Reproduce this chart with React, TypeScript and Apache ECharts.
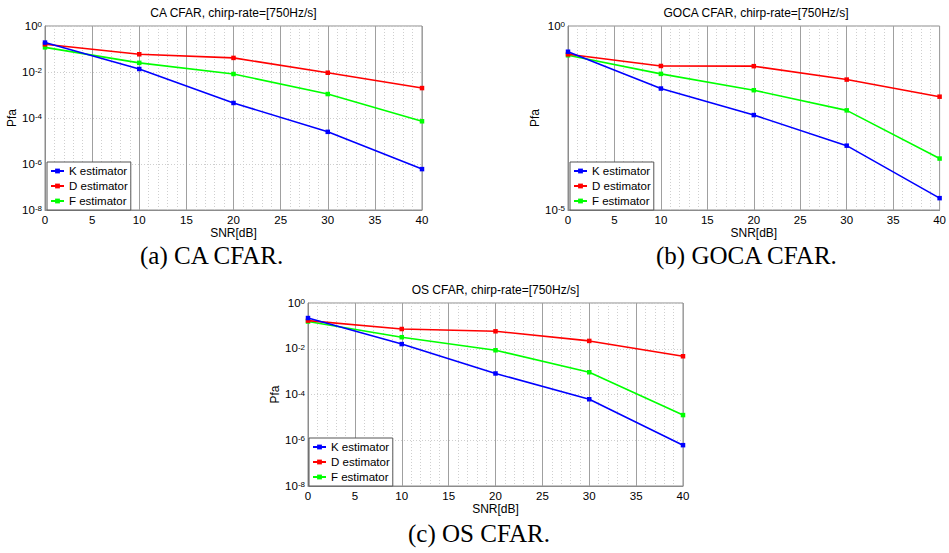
import React, { useEffect, useRef } from "react";
import * as echarts from "echarts";

const SNR = [0, 10, 20, 30, 40];
const X_TICKS_STEP = 5;
const SERIES_NAMES = ["K estimator", "D estimator", "F estimator"];
const SERIES_COLORS = ["#0000ff", "#ff0000", "#00ff00"];

const CA_K = [0.19, 0.0135, 4.5e-4, 2.5e-5, 6e-7];
const CA_D = [0.16, 0.059, 0.041, 0.0093, 0.002];
const CA_F = [0.118, 0.025, 0.0082, 0.0011, 7.2e-5];

const GOCA_K = [0.2, 0.02, 0.0038, 5.6e-4, 2.1e-5];
const GOCA_D = [0.17, 0.082, 0.081, 0.035, 0.012];
const GOCA_F = [0.16, 0.05, 0.018, 0.0051, 2.5e-4];

const OS_K = [0.22, 0.016, 8.3e-4, 6.2e-5, 6.1e-7];
const OS_D = [0.17, 0.073, 0.058, 0.022, 0.0047];
const OS_F = [0.155, 0.032, 0.0086, 9.4e-4, 1.26e-5];

const TITLES = [
  "CA CFAR, chirp-rate=[750Hz/s]",
  "GOCA CFAR, chirp-rate=[750Hz/s]",
  "OS CFAR, chirp-rate=[750Hz/s]",
];
const CAPTIONS = ["(a) CA CFAR.", "(b) GOCA CFAR.", "(c) OS CFAR."];
const Y_MIN = [1e-8, 1e-5, 1e-8];
const Y_DECADE_STEP = [2, 5, 2];
const PANEL_DATA = [
  [CA_K, CA_D, CA_F],
  [GOCA_K, GOCA_D, GOCA_F],
  [OS_K, OS_D, OS_F],
];

const SANS = "Liberation Sans, Arial, Helvetica, sans-serif";
const SERIF = "Liberation Serif, Times New Roman, serif";

// layout (pixels)
const GRIDS = [
  { left: 45, top: 26, width: 377, height: 184 },
  { left: 568, top: 26, width: 376, height: 184 },
  { left: 308, top: 303, width: 375, height: 183 },
];
const LEGEND_POS = [
  { left: 47, top: 162 },
  { left: 570, top: 162 },
  { left: 309, top: 438 },
];
const CAPTION_POS = [
  { x: 140, y: 255 },
  { x: 656, y: 255 },
  { x: 408, y: 533 },
];

export default function App() {
  const ref = useRef<HTMLDivElement>(null);

  useEffect(() => {
    if (!ref.current) return;
    const chart = echarts.init(ref.current, null, { renderer: "svg" });

    const grid = GRIDS.map((g) => ({
      ...g,
      show: true,
      borderColor: "#8c8c8c",
      borderWidth: 1,
      backgroundColor: "#fff",
    }));

    const xAxis = GRIDS.map((_, i) => ({
      type: "value",
      gridIndex: i,
      min: 0,
      max: 40,
      interval: X_TICKS_STEP,
      name: "SNR[dB]",
      nameLocation: "middle",
      nameGap: 13,
      nameTextStyle: { fontFamily: SANS, fontSize: 12, color: "#000" },
      axisLine: { show: true, lineStyle: { color: "#8c8c8c", width: 1 } },
      axisTick: { show: false },
      axisLabel: {
        fontFamily: SANS,
        fontSize: 11.5,
        color: "#000",
        margin: 4,
        showMinLabel: true,
        showMaxLabel: true,
      },
      splitLine: { show: true, lineStyle: { color: "#a0a0a0", width: 1 } },
      minorTick: { show: false, splitNumber: 5 },
      minorSplitLine: {
        show: true,
        lineStyle: { color: "#cfcfcf", width: 1, type: [1, 2] },
      },
    }));

    const yAxis = GRIDS.map((_, i) => ({
      type: "log",
      logBase: 10,
      gridIndex: i,
      min: Y_MIN[i],
      max: 1,
      interval: Y_DECADE_STEP[i],
      name: "Pfa",
      nameLocation: "middle",
      nameGap: 25,
      nameTextStyle: { fontFamily: SANS, fontSize: 12, color: "#000" },
      axisLine: { show: true, lineStyle: { color: "#8c8c8c", width: 1 } },
      axisTick: { show: false },
      axisLabel: {
        margin: 3,
        showMinLabel: true,
        showMaxLabel: true,
        formatter: (v: number) => {
          const e = Math.round(Math.log10(v));
          return `{b|10}{s|${e}}`;
        },
        rich: {
          b: {
            fontFamily: SANS,
            fontSize: 11.5,
            color: "#000",
            lineHeight: 11,
            padding: [3, 0, 0, 0],
            verticalAlign: "bottom",
          },
          s: {
            fontFamily: SANS,
            fontSize: 8,
            color: "#000",
            lineHeight: 8,
            verticalAlign: "top",
          },
        },
      },
      splitLine: {
        show: i !== 1,
        lineStyle: { color: "#cfcfcf", width: 1, type: [1, 2] },
      },
      minorSplitLine: { show: false },
    }));

    const series: any[] = [];
    PANEL_DATA.forEach((panel, p) => {
      panel.forEach((vals, s) => {
        series.push({
          type: "line",
          name: SERIES_NAMES[s],
          xAxisIndex: p,
          yAxisIndex: p,
          data: SNR.map((x, k) => [x, vals[k]]),
          symbol: "rect",
          symbolSize: 4.5,
          showSymbol: true,
          lineStyle: { color: SERIES_COLORS[s], width: 1.6 },
          itemStyle: { color: SERIES_COLORS[s] },
          emphasis: { disabled: true },
          z: 3 + (2 - s),
        });
      });
    });

    const legend = LEGEND_POS.map((pos) => ({
      ...pos,
      orient: "vertical",
      data: SERIES_NAMES,
      backgroundColor: "#fff",
      borderColor: "#555",
      borderWidth: 1,
      borderRadius: 0,
      padding: [3, 3, 3, 3],
      itemGap: 3,
      itemWidth: 13,
      itemHeight: 6,
      selectedMode: false,
      textStyle: {
        fontFamily: SANS,
        fontSize: 11.5,
        color: "#000",
        lineHeight: 12,
      },
    }));

    const title = TITLES.map((t, i) => ({
      text: t,
      left: GRIDS[i].left + GRIDS[i].width / 2,
      top: GRIDS[i].top - 19,
      textAlign: "center",
      padding: 0,
      textStyle: {
        fontFamily: SANS,
        fontSize: 12,
        fontWeight: "normal",
        color: "#000",
      },
    }));

    const graphic = CAPTIONS.map((c, i) => ({
      type: "text",
      x: CAPTION_POS[i].x,
      y: CAPTION_POS[i].y,
      style: {
        text: c,
        font: `25px ${SERIF}`,
        fill: "#000",
        textAlign: "left",
        textVerticalAlign: "middle",
      },
    }));

    chart.setOption({
      animation: false,
      backgroundColor: "#fff",
      title,
      grid,
      xAxis,
      yAxis,
      legend,
      series,
      graphic,
    } as any);

    return () => chart.dispose();
  }, []);

  return (
    <div
      ref={ref}
      style={{ position: "absolute", left: 0, top: 0, width: 949, height: 553 }}
    />
  );
}
